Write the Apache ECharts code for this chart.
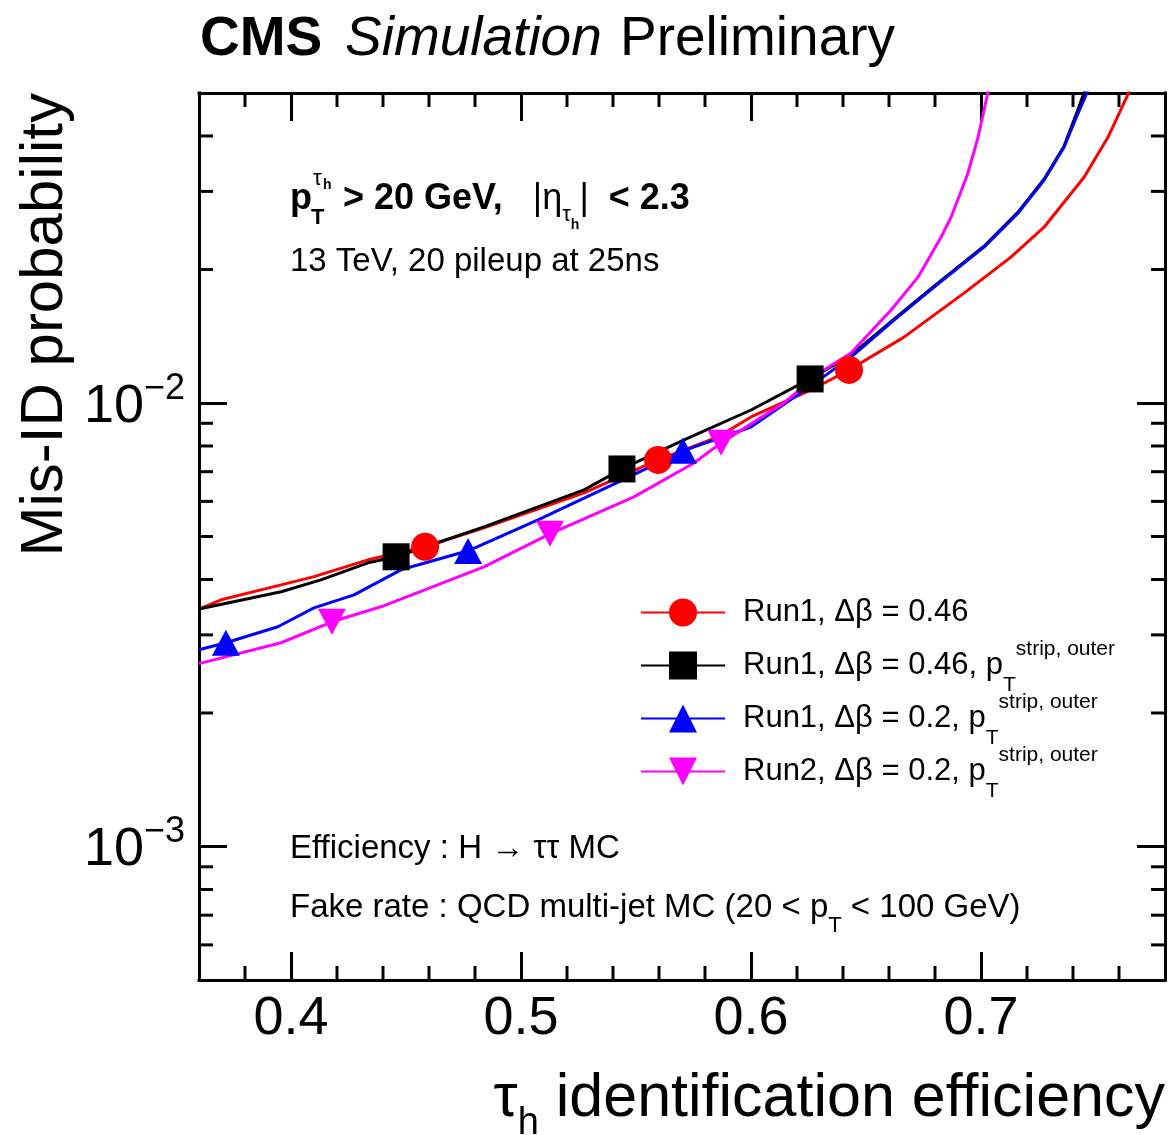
<!DOCTYPE html>
<html>
<head>
<meta charset="utf-8">
<title>Mis-ID probability vs tau_h identification efficiency</title>
<script src="https://cdn.jsdelivr.net/npm/echarts@6.0.0/dist/echarts.min.js"></script>
<style>
  html, body { margin: 0; padding: 0; background: #fff; }
  #main { width: 1171px; height: 1135px; }
</style>
</head>
<body>
<div id="main"></div>
<script>
// axis ranges and ticks
var xMin = 0.36, xMax = 0.78;
var yMin = 5e-4, yMax = 5e-2;
var xMajorTicks = [0.4, 0.5, 0.6, 0.7];
var xMinorTicks = [0.38, 0.42, 0.44, 0.46, 0.48, 0.52, 0.54, 0.56, 0.58, 0.62, 0.64, 0.66, 0.68, 0.72, 0.74, 0.76];
var yMinorTicks = [6e-4, 7e-4, 8e-4, 9e-4, 2e-3, 3e-3, 4e-3, 5e-3, 6e-3, 7e-3, 8e-3, 9e-3, 2e-2, 3e-2, 4e-2];

// series names (legend)
var seriesNames = ['Run1, Δβ = 0.46', 'Run1, Δβ = 0.46, pT strip, outer', 'Run1, Δβ = 0.2, pT strip, outer', 'Run2, Δβ = 0.2, pT strip, outer'];
// the first label carries empty sub/sup tokens so that every legend row has the same height
var legendLabels = [
  'Run1, Δβ = 0.46{sub| }{sup| }',
  'Run1, Δβ = 0.46, p{sub|T}{sup|strip, outer}',
  'Run1, Δβ = 0.2, p{sub|T}{sup|strip, outer}',
  'Run2, Δβ = 0.2, p{sub|T}{sup|strip, outer}'
];

// curves [efficiency, mis-id probability]
var run1Db046 = [
  [0.3600, 0.00343], [0.3696, 0.00360], [0.3957, 0.00389], [0.4100, 0.00406], [0.4335, 0.00443],
  [0.4583, 0.00474], [0.4839, 0.00523], [0.5274, 0.00627], [0.5596, 0.00744], [0.5857, 0.00839],
  [0.6000, 0.00930], [0.6261, 0.01070], [0.6426, 0.01187], [0.6665, 0.01408], [0.6926, 0.01769],
  [0.7130, 0.02132], [0.7274, 0.02491], [0.7448, 0.03228], [0.7552, 0.03973], [0.7657, 0.0520]
];
var run1Db046Strip = [
  [0.3600, 0.003430], [0.3957, 0.003753], [0.4130, 0.003993], [0.4335, 0.004361], [0.4457, 0.004500],
  [0.4839, 0.005257], [0.5274, 0.006368], [0.5439, 0.007100], [0.5709, 0.008254], [0.6000, 0.009643],
  [0.6257, 0.01133], [0.6435, 0.01282], [0.6622, 0.01546], [0.6796, 0.01834], [0.7013, 0.02257],
  [0.7161, 0.02693], [0.7274, 0.03195], [0.7361, 0.03791], [0.7417, 0.04523], [0.7452, 0.0507]
];
var run1Db02Strip = [
  [0.3600, 0.002778], [0.3717, 0.002880], [0.3943, 0.003130], [0.4100, 0.003453], [0.4274, 0.003694],
  [0.4478, 0.004206], [0.4770, 0.004642], [0.5074, 0.005452], [0.5443, 0.006706], [0.5704, 0.007800],
  [0.6000, 0.008830], [0.6252, 0.01086], [0.6435, 0.01269], [0.6622, 0.01538], [0.6796, 0.01825],
  [0.7013, 0.02246], [0.7161, 0.02679], [0.7274, 0.03179], [0.7361, 0.03772], [0.7422, 0.04500],
  [0.7465, 0.0507]
];
var run2Db02Strip = [
  [0.3600, 0.002584], [0.3957, 0.002880], [0.4178, 0.003211], [0.4391, 0.003471], [0.4839, 0.004272],
  [0.5126, 0.005070], [0.5491, 0.006141], [0.5752, 0.007323], [0.5870, 0.008130], [0.6143, 0.01000],
  [0.6317, 0.01187], [0.6435, 0.01296], [0.6609, 0.01620], [0.6726, 0.01922], [0.6826, 0.02365],
  [0.6870, 0.02624], [0.6943, 0.03296], [0.6987, 0.03973], [0.7035, 0.0515]
];

// working points (markers)
var run1Db046Pts = [[0.4583, 0.00474], [0.5596, 0.00744], [0.6426, 0.01187]];
var run1Db046StripPts = [[0.4457, 0.00450], [0.5439, 0.00710], [0.6257, 0.01133]];
var run1Db02StripPts = [[0.3717, 0.00288], [0.4770, 0.00464], [0.5704, 0.00780]];
var run2Db02StripPts = [[0.4178, 0.00321], [0.5126, 0.00507], [0.5870, 0.00813]];

var FONT = '"Liberation Sans", Arial, Helvetica, sans-serif';
var majorLen = 28, minorLen = 14;

var chart = echarts.init(document.getElementById('main'));

function lineSeries(name, data, color, symbol, rotate, size) {
  return {
    name: name, type: 'line', data: data, showSymbol: false,
    symbol: symbol, symbolRotate: rotate, symbolSize: size,
    lineStyle: { color: color, width: 3 }, itemStyle: { color: color },
    silent: true, z: 2
  };
}
function markerSeries(data, color, symbol, rotate, size) {
  return {
    type: 'scatter', data: data, symbol: symbol, symbolRotate: rotate, symbolSize: size,
    itemStyle: { color: color, opacity: 1 }, silent: true, z: 3
  };
}

var axisLineStyle = { color: '#000', width: 3, cap: 'square' };
var tickStyle = { color: '#000', width: 3 };

var option = {
  backgroundColor: '#fff',
  animation: false,
  grid: { left: 199, right: 6, top: 93, bottom: 155, containLabel: false, outerBoundsMode: 'none' },
  xAxis: [{
    type: 'value', min: xMin, max: xMax, position: 'bottom',
    axisLine: { lineStyle: axisLineStyle },
    axisTick: { inside: true, length: majorLen, lineStyle: tickStyle, customValues: xMajorTicks },
    axisLabel: { customValues: xMajorTicks, fontSize: 54, fontFamily: FONT, color: '#000', margin: 12 },
    splitLine: { show: false }
  }, {
    type: 'value', min: xMin, max: xMax, position: 'top',
    axisLine: { lineStyle: axisLineStyle },
    axisTick: { inside: true, length: majorLen, lineStyle: tickStyle, customValues: xMajorTicks },
    axisLabel: { show: false },
    splitLine: { show: false }
  }],
  yAxis: [{
    type: 'log', logBase: 10, min: yMin, max: yMax, position: 'left',
    axisLine: { lineStyle: axisLineStyle },
    axisTick: { inside: true, length: majorLen, lineStyle: tickStyle },
    axisLabel: {
      fontSize: 54, fontFamily: FONT, color: '#000', margin: 14,
      formatter: function (v) {
        var e = Math.log10(v);
        if (Math.abs(e - Math.round(e)) > 1e-6) return '';
        e = Math.round(e);
        return '{m|10}{sup|' + (e < 0 ? '−' : '') + Math.abs(e) + '}';
      },
      rich: {
        m: { fontSize: 54, fontFamily: FONT, color: '#000', padding: [8, 0, 0, 0] },
        sup: { fontSize: 36, fontFamily: FONT, color: '#000', padding: [0, 0, 28, 0] }
      }
    },
    splitLine: { show: false }
  }, {
    type: 'log', logBase: 10, min: yMin, max: yMax, position: 'right',
    axisLine: { lineStyle: axisLineStyle },
    axisTick: { inside: true, length: majorLen, lineStyle: tickStyle },
    axisLabel: { show: false },
    splitLine: { show: false }
  }],
  legend: {
    data: seriesNames, orient: 'vertical', left: 635, top: 581,
    itemWidth: 84, itemHeight: 35, itemGap: -4, selectedMode: false,
    formatter: function (name) { return legendLabels[seriesNames.indexOf(name)]; },
    textStyle: {
      fontSize: 31, fontFamily: FONT, color: '#000', lineHeight: 35, padding: [0, 0, 0, 13],
      rich: {
        sub: { fontSize: 21, fontFamily: FONT, color: '#000', padding: [20, 0, -20, 0] },
        sup: { fontSize: 21, fontFamily: FONT, color: '#000', padding: [-16, 0, 16, 0] }
      }
    }
  },
  series: [
    lineSeries(seriesNames[0], run1Db046, '#ff0000', 'circle', 0, 28),
    lineSeries(seriesNames[1], run1Db046Strip, '#000000', 'rect', 0, 27),
    lineSeries(seriesNames[2], run1Db02Strip, '#0000ff', 'triangle', 0, [28, 26]),
    lineSeries(seriesNames[3], run2Db02Strip, '#ff00ff', 'triangle', 180, [28, 26]),
    markerSeries(run1Db046Pts, '#ff0000', 'circle', 0, 28),
    markerSeries(run1Db046StripPts, '#000000', 'rect', 0, 27),
    markerSeries(run1Db02StripPts, '#0000ff', 'triangle', 0, [28, 26]),
    markerSeries(run2Db02StripPts, '#ff00ff', 'triangle', 180, [28, 26]),
    {
      // minor ticks of the log axis, left and right
      type: 'custom', silent: true, z: 5,
      data: yMinorTicks.map(function (v) { return [xMin, v]; }),
      encode: { x: 0, y: 1 },
      renderItem: function (params, api) {
        var cs = params.coordSys;
        var p = api.coord([api.value(0), api.value(1)]);
        var st = { stroke: '#000', lineWidth: 3 };
        return { type: 'group', children: [
          { type: 'line', shape: { x1: cs.x, y1: p[1], x2: cs.x + minorLen, y2: p[1] }, style: st },
          { type: 'line', shape: { x1: cs.x + cs.width - minorLen, y1: p[1], x2: cs.x + cs.width, y2: p[1] }, style: st }
        ] };
      }
    },
    {
      // minor ticks of the efficiency axis, bottom and top
      type: 'custom', silent: true, z: 5,
      data: xMinorTicks.map(function (v) { return [v, yMin]; }),
      encode: { x: 0, y: 1 },
      renderItem: function (params, api) {
        var cs = params.coordSys;
        var p = api.coord([api.value(0), api.value(1)]);
        var st = { stroke: '#000', lineWidth: 3 };
        return { type: 'group', children: [
          { type: 'line', shape: { x1: p[0], y1: cs.y + cs.height, x2: p[0], y2: cs.y + cs.height - minorLen }, style: st },
          { type: 'line', shape: { x1: p[0], y1: cs.y, x2: p[0], y2: cs.y + minorLen }, style: st }
        ] };
      }
    }
  ],
  graphic: [
    // header
    { type: 'text', x: 200, y: 40, style: { text: 'CMS', fontSize: 55, fontWeight: 'bold', fontFamily: FONT, fill: '#000', verticalAlign: 'middle' } },
    { type: 'text', x: 345, y: 40, style: { text: 'Simulation', fontSize: 55, fontStyle: 'italic', fontFamily: FONT, fill: '#000', verticalAlign: 'middle' } },
    { type: 'text', x: 620, y: 40, style: { text: 'Preliminary', fontSize: 55, fontFamily: FONT, fill: '#000', verticalAlign: 'middle' } },
    // axis titles
    { type: 'text', x: 45, y: 93, rotation: Math.PI / 2, style: { text: 'Mis-ID probability', fontSize: 60, fontFamily: FONT, fill: '#000', align: 'right', verticalAlign: 'middle' } },
    { type: 'text', x: 1165, y: 1099, style: {
      text: '{n|τ}{s|h}{n| identification efficiency}', align: 'right', verticalAlign: 'middle',
      rich: {
        n: { fontSize: 61, fontFamily: FONT, fill: '#000' },
        s: { fontSize: 38, fontFamily: FONT, fill: '#000', padding: [50, 0, 0, 0] }
      } } },
    // selection text
    { type: 'text', x: 290, y: 199, style: { text: 'p', fontSize: 36, fontWeight: 'bold', fontFamily: FONT, fill: '#000', verticalAlign: 'middle' } },
    { type: 'text', x: 311, y: 218, style: { text: 'T', fontSize: 22, fontWeight: 'bold', fontFamily: FONT, fill: '#000', verticalAlign: 'middle' } },
    { type: 'text', x: 313, y: 179, style: { text: 'τ', fontSize: 22, fontFamily: FONT, fill: '#000', verticalAlign: 'middle' } },
    { type: 'text', x: 323, y: 185, style: { text: 'h', fontSize: 14, fontWeight: 'bold', fontFamily: FONT, fill: '#000', verticalAlign: 'middle' } },
    { type: 'text', x: 343, y: 199, style: {
      text: '{b|> 20 GeV,   }{n||η}{s|τ}{ss|h}{n||}{b|  < 2.3}', verticalAlign: 'middle',
      rich: {
        b: { fontSize: 36, fontWeight: 'bold', fontFamily: FONT, fill: '#000' },
        n: { fontSize: 36, fontFamily: FONT, fill: '#000' },
        s: { fontSize: 22, fontFamily: FONT, fill: '#000', padding: [32, 0, 0, 0] },
        ss: { fontSize: 14, fontWeight: 'bold', fontFamily: FONT, fill: '#000', padding: [52, 0, 0, 0] }
      } } },
    { type: 'text', x: 290, y: 262, style: { text: '13 TeV, 20 pileup at 25ns', fontSize: 33, fontFamily: FONT, fill: '#000', verticalAlign: 'middle' } },
    // samples
    { type: 'text', x: 290, y: 849, style: { text: 'Efficiency : H → ττ MC', fontSize: 33, fontFamily: FONT, fill: '#000', verticalAlign: 'middle' } },
    { type: 'text', x: 290, y: 908, style: {
      text: '{n|Fake rate : QCD multi-jet MC (20 < p}{s|T}{n| < 100 GeV)}', verticalAlign: 'middle',
      rich: {
        n: { fontSize: 33, fontFamily: FONT, fill: '#000' },
        s: { fontSize: 22, fontFamily: FONT, fill: '#000', padding: [36, 0, 0, 0] }
      } } }
  ]
};

chart.setOption(option);
</script>
</body>
</html>
